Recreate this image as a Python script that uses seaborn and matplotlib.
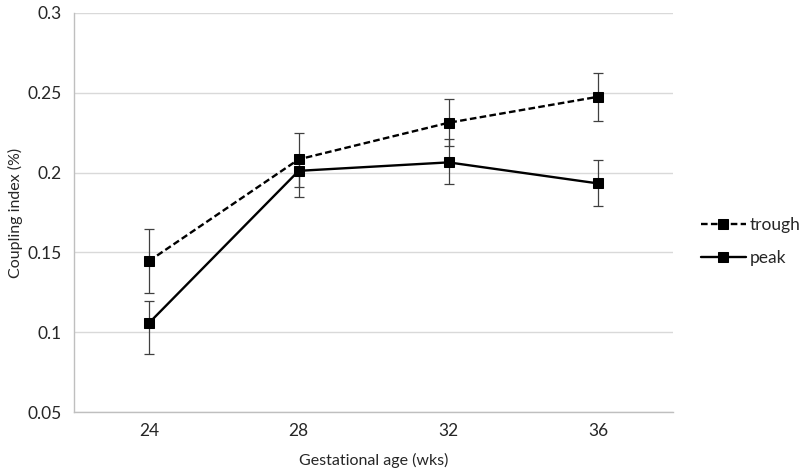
import pandas as pd
import matplotlib
matplotlib.use("Agg")
import matplotlib.pyplot as plt
import matplotlib.ticker as mticker
import seaborn as sns

# Données (barres d'erreur : bas / haut)
ages = ["24", "28", "32", "36"]
trough = [0.1446, 0.2083, 0.2312, 0.2475]
trough_lo = [0.0200, 0.0176, 0.0148, 0.0150]
trough_hi = [0.0204, 0.0167, 0.0147, 0.0151]
peak = [0.1058, 0.2011, 0.2064, 0.1932]
peak_lo = [0.0192, 0.0163, 0.0138, 0.0140]
peak_hi = [0.0139, 0.0086, 0.0144, 0.0146]

df = pd.DataFrame({
    "age": ages * 2,
    "value": trough + peak,
    "lo": trough_lo + peak_lo,
    "hi": trough_hi + peak_hi,
    "series": ["trough"] * 4 + ["peak"] * 4,
})

sns.set_style("white")
plt.rcParams["font.family"] = ["Lato", "DejaVu Sans"]

fig = plt.figure(figsize=(8, 4.76), dpi=100)
ax = fig.add_axes([0.0925, 0.134, 0.749, 0.839])

gray = "#bfbfbf"
txt = "#262626"

# barres d'erreur d'abord, puis les lignes par-dessus
for name in ["trough", "peak"]:
    sub = df[df["series"] == name]
    ax.errorbar(sub["age"], sub["value"], yerr=[sub["lo"], sub["hi"]], fmt="none",
                ecolor="#404040", elinewidth=0.9, capsize=3.5, capthick=0.9, zorder=2)

sns.lineplot(data=df, x="age", y="value", style="series",
             style_order=["trough", "peak"],
             dashes={"trough": (2.8, 1.4), "peak": ""},
             markers={"trough": "s", "peak": "s"},
             color="black", linewidth=1.7, markersize=6.5,
             markeredgecolor="black", ax=ax, zorder=3)

ax.set_xlim(-0.5, 3.5)
ax.set_ylim(0.05, 0.3)
ax.yaxis.set_major_locator(mticker.MultipleLocator(0.05))
ax.yaxis.set_major_formatter(mticker.FuncFormatter(lambda v, p: f"{v:g}"))
ax.xaxis.set_minor_locator(mticker.FixedLocator([-0.5, 0.5, 1.5, 2.5, 3.5]))

ax.grid(axis="y", color="#d9d9d9", linewidth=1)
ax.set_axisbelow(True)
for s in ["top", "right"]:
    ax.spines[s].set_visible(False)
for s in ["left", "bottom"]:
    ax.spines[s].set_color(gray)
    ax.spines[s].set_linewidth(1)

ax.tick_params(axis="x", which="major", length=0, labelsize=12.5, pad=8, colors=txt)
ax.tick_params(axis="x", which="minor", length=5, color=gray, width=1)
ax.tick_params(axis="y", length=5, color=gray, width=1, labelsize=12.5, pad=4, labelcolor=txt)

ax.set_xlabel("Gestational age (wks)", fontsize=11.5, color=txt, labelpad=10)
ax.set_ylabel("Coupling index (%)", fontsize=11.5, color=txt, labelpad=3)

handles, labels = ax.get_legend_handles_labels()
ax.legend(handles, labels, loc="center left", bbox_to_anchor=(1.02, 0.427),
          frameon=False, fontsize=12.5, handlelength=2.6, handletextpad=0.2,
          labelspacing=0.95, labelcolor=txt)

fig.savefig("out.png", dpi=100)
plt.close(fig)
